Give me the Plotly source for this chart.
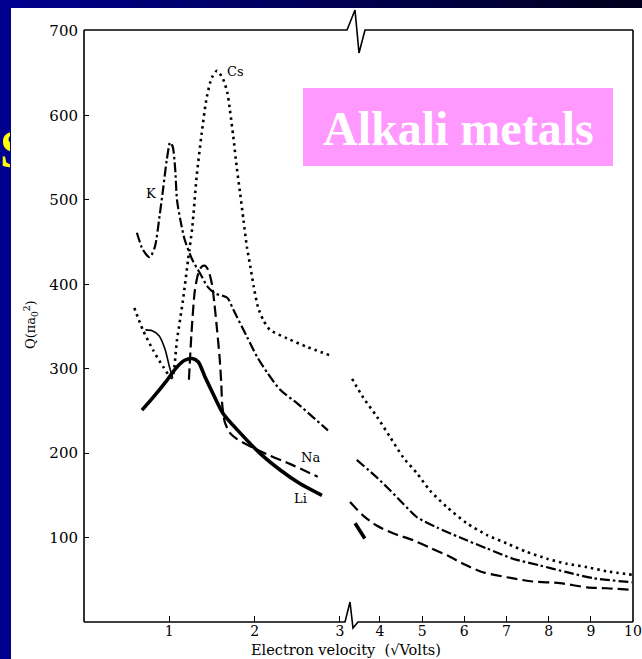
import plotly.graph_objects as go

# ---------------- data ----------------
# Cs (dotted)
cs_v_low = [0.59, 0.69, 0.81, 0.93, 1.03, 1.09, 1.16, 1.22, 1.27, 1.32, 1.38, 1.44, 1.50, 1.56,
            1.63, 1.68, 1.71, 1.75, 1.79, 1.83, 1.87, 1.91, 1.95, 1.99, 2.04, 2.10, 2.18, 2.38, 2.61, 2.88]
cs_q_low = [372, 346, 322, 302, 289, 334, 381, 429, 468, 527, 579, 622, 645, 653,
            643, 627, 607, 575, 539, 508, 476, 444, 421, 397, 373, 358, 346, 336, 326, 316]
cs_v_high = [3.34, 3.60, 3.93, 4.24, 4.55, 4.88, 5.18, 5.59, 6.06, 6.54, 7.01, 7.48, 7.96, 8.43, 8.91, 9.38, 9.98]
cs_q_high = [288, 266, 243, 219, 195, 176, 156, 136, 117, 103, 93, 83, 75, 69, 65, 60, 56]

# K (dash-dot)
k_v_low = [0.62, 0.69, 0.77, 0.83, 0.89, 0.93, 0.97, 1.01, 1.04, 1.07, 1.09, 1.13, 1.18, 1.27,
           1.36, 1.45, 1.54, 1.68, 1.75, 1.91, 2.03, 2.15, 2.30, 2.50, 2.68, 2.86]
k_q_low = [461, 441, 432, 444, 484, 515, 547, 568, 563, 535, 500, 476, 453, 429,
           413, 397, 389, 384, 370, 338, 314, 295, 275, 259, 243, 227]
k_v_high = [3.45, 3.93, 4.24, 4.55, 4.88, 5.35, 5.90, 6.54, 7.15, 7.79, 8.43, 9.05, 9.98]
k_q_high = [192, 171, 156, 140, 124, 112, 100, 87, 75, 67, 59, 52, 47]

# Na (dashed)
na_v_low = [1.23, 1.26, 1.30, 1.34, 1.38, 1.42, 1.46, 1.50, 1.53, 1.56, 1.59, 1.61, 1.62, 1.65,
            1.71, 1.79, 1.99, 2.18, 2.42, 2.74]
na_q_low = [287, 342, 393, 413, 421, 422, 416, 400, 376, 346, 313, 281, 258, 237,
            224, 217, 206, 197, 187, 172]
na_v_high = [3.29, 3.60, 3.93, 4.31, 4.78, 5.18, 5.59, 5.97, 6.44, 7.01, 7.62, 8.27, 8.91, 9.38, 9.98]
na_q_high = [142, 126, 114, 105, 97, 88, 79, 69, 59, 53, 48, 46, 41, 40, 38]

# Li (thick solid)
li_v_low = [0.68, 0.81, 0.97, 1.09, 1.18, 1.27, 1.34, 1.42, 1.51, 1.63, 1.83, 2.06, 2.30, 2.53, 2.79]
li_q_low = [251, 266, 286, 302, 310, 312, 308, 290, 271, 247, 224, 200, 180, 164, 150]
li_v_high = [3.41, 3.64]
li_q_high = [117, 99]

# unlabelled thin solid curve
thin_v = [0.72, 0.80, 0.88, 0.95, 1.00, 1.04]
thin_q = [346, 345, 339, 323, 303, 289]

x_ticks_low = [1, 2, 3]
x_ticks_high = [4, 5, 6, 7, 8, 9, 10]
y_ticks = [100, 200, 300, 400, 500, 600, 700]

# ---------------- geometry helpers (pixel -> paper) ----------------
W, H = 642, 659
L, R, T, B = 84, 633, 31, 622


def px(x):
    return (x - L) / (R - L)


def py(y):
    return (B - y) / (B - T)


SPLIT = 347
split_paper = px(SPLIT)
left_range = [0, (SPLIT - L) / 85.3]
right_range = [4 - (380 - SPLIT) / 42.2, 10.0001]

SERIF = "DejaVu Serif"
fig = go.Figure()


def add(xs, ys, axis, dash, width, name, shape="spline"):
    fig.add_trace(go.Scatter(
        x=xs, y=ys, xaxis=axis, yaxis="y", mode="lines", name=name,
        line=dict(color="black", width=width, dash=dash, shape=shape, smoothing=0.7),
        showlegend=False, hoverinfo="skip"))


dot = "2.5px,4px"
dashdot = "10px,3px,2.5px,3px"
dashed = "11px,5px"

add(cs_v_low, cs_q_low, "x", dot, 2.6, "Cs")
add(cs_v_high, cs_q_high, "x2", dot, 2.6, "Cs")
add(k_v_low, k_q_low, "x", dashdot, 2.2, "K")
add(k_v_high, k_q_high, "x2", dashdot, 2.2, "K")
add(na_v_low, na_q_low, "x", dashed, 2.2, "Na")
add(na_v_high, na_q_high, "x2", dashed, 2.2, "Na")
add(li_v_low, li_q_low, "x", "solid", 3.6, "Li")
add(li_v_high, li_q_high, "x2", "solid", 3.6, "Li", shape="linear")
add(thin_v, thin_q, "x", "solid", 1.6, "thin")

axis_common = dict(showgrid=False, zeroline=False, showline=False, ticks="inside",
                   ticklen=6, tickwidth=1.2, tickcolor="black", automargin=False,
                   ticklabeloverflow="allow",
                   tickfont=dict(family=SERIF, size=15, color="black"))
x_common = {**axis_common, "tickfont": dict(family=SERIF, size=14, color="black"),
            "ticklabelstandoff": -1}

fig.update_layout(
    width=W, height=H,
    margin=dict(l=L, r=W - R, t=T, b=H - B, pad=0, autoexpand=False),
    paper_bgcolor="#00008E",
    plot_bgcolor="rgba(0,0,0,0)",
    xaxis=dict(domain=[0, split_paper], range=left_range, tickvals=x_ticks_low,
               ticktext=[str(v) for v in x_ticks_low], anchor="y", **x_common),
    xaxis2=dict(domain=[split_paper, 1], range=right_range, tickvals=x_ticks_high,
                ticktext=[str(v) for v in x_ticks_high], anchor="y", **x_common),
    yaxis=dict(range=[0, 700], tickvals=y_ticks, ticktext=[str(v) for v in y_ticks],
               ticklabelstandoff=5, **{**axis_common, "ticklen": 5}),
)

shapes = []
# top dark gradient strip
n = 24
for i in range(n):
    f = i / (n - 1)
    b = int(142 - f * 112)
    shapes.append(dict(type="rect", xref="paper", yref="paper", layer="below",
                       x0=px(i * W / n), x1=px((i + 1) * W / n + 1), y0=py(0), y1=py(8),
                       line=dict(width=0), fillcolor=f"rgb(0,0,{b})"))
# white page
shapes.append(dict(type="rect", xref="paper", yref="paper", layer="below",
                   x0=px(11), x1=px(W + 2), y0=py(8), y1=py(H + 2),
                   line=dict(width=0), fillcolor="white"))
# pink box
shapes.append(dict(type="rect", xref="paper", yref="paper", layer="below",
                   x0=px(303), x1=px(613), y0=py(88), y1=py(166),
                   line=dict(width=0), fillcolor="#FF99FF"))


def path(points):
    return "M" + " L".join(f"{px(a):.5f},{py(b):.5f}" for a, b in points)


frame_paths = [
    [(84, 622), (345, 622), (350, 602), (353, 628), (358, 622), (633, 622)],
    [(84, 30), (347, 30), (355, 10), (359, 53), (365, 30), (633, 30)],
    [(84, 30), (84, 622)],
    [(633, 30), (633, 622)],
]
for pts in frame_paths:
    shapes.append(dict(type="path", xref="paper", yref="paper", path=path(pts),
                       line=dict(color="black", width=1.6), layer="above"))
fig.update_layout(shapes=shapes)

ann = []
# slide title letter peeking out
ann.append(dict(xref="paper", yref="paper", x=px(-1), y=py(149), xanchor="left", yanchor="middle",
                text="<b>S</b>", showarrow=False, width=10, align="left", borderpad=0,
                font=dict(family="Liberation Serif", size=52, color="#FFFF00")))
# pink box title
ann.append(dict(xref="paper", yref="paper", x=px(458), y=py(128), xanchor="center", yanchor="middle",
                text="<b>Alkali metals</b>", showarrow=False,
                font=dict(family="Liberation Serif", size=48, color="white")))
# curve labels
for t, xv, yv in [("Cs", 1.78, 652), ("K", 0.785, 508), ("Na", 2.66, 195), ("Li", 2.54, 146)]:
    ann.append(dict(xref="x", yref="y", x=xv, y=yv, text=t, showarrow=False,
                    font=dict(family=SERIF, size=13, color="black")))
# axis titles
ann.append(dict(xref="paper", yref="paper", x=px(346), y=py(650), xanchor="center", yanchor="middle",
                text="Electron velocity\u00a0\u00a0(\u221aVolts)", showarrow=False,
                font=dict(family=SERIF, size=14.5, color="black")))
ann.append(dict(xref="paper", yref="paper", x=px(31), y=py(325), xanchor="center", yanchor="middle",
                text="Q(\u03c0a<sub>0</sub><sup>2</sup>)", showarrow=False, textangle=-90,
                font=dict(family=SERIF, size=13, color="black")))
fig.update_layout(annotations=ann)

fig.write_html(
    "out.html",
    config={"displayModeBar": False},
    post_script="document.body.style.margin='0';document.body.style.padding='0';"
                "document.body.style.overflow='hidden';",
)
